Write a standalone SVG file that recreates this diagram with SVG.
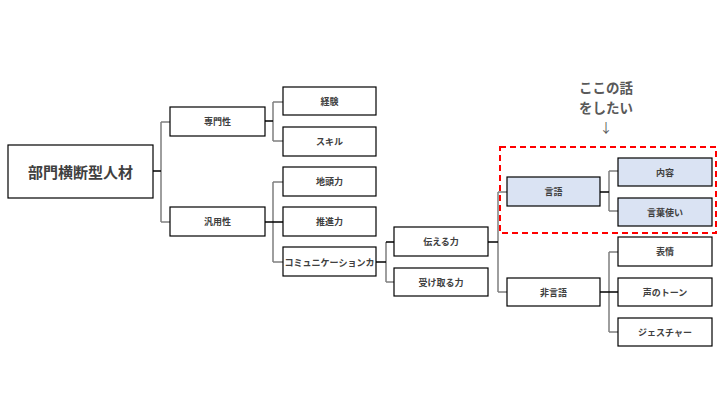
<svg xmlns="http://www.w3.org/2000/svg" width="720" height="405" viewBox="0 0 720 405">
<style>
.b{fill:#fff;stroke:#000;stroke-width:1.2}
.h{fill:#dae3f3;stroke:#000;stroke-width:1.2}
.t{font-family:"Noto Sans CJK JP","Noto Sans",sans-serif;font-size:9px;font-weight:bold;fill:#404040;text-anchor:middle;dominant-baseline:central}
.r{font-size:15px}
.a{font-family:"Noto Sans CJK JP","Noto Sans",sans-serif;font-size:13.5px;font-weight:bold;fill:#595959;text-anchor:middle}
.c{fill:none;stroke:#7f7f7f;stroke-width:1.5}
.k{fill:none;stroke:#000;stroke-width:1.5}
</style>
<rect width="720" height="405" fill="#fff"/>
<g id="connectors">
<path class="c" d="M161,122V222M161,122H170M161,222H170"/>
<path class="k" d="M153,171H161"/>
<path class="c" d="M273,102V141M273,102H283M273,141H283"/>
<path class="k" d="M265,121H273"/>
<path class="c" d="M273,182V262M273,182H283M273,262H283"/>
<path class="k" d="M265,222H283"/>
<path class="c" d="M386,242V282M386,282H394"/>
<path class="k" d="M376,262H386M386,242H394"/>
<path class="c" d="M498,192V292M498,192H507M498,292H507"/>
<path class="k" d="M488,242H498"/>
<path class="c" d="M609,171V211M609,171H618M609,211H618"/>
<path class="k" d="M600,192H609"/>
<path class="c" d="M609,252V332M609,252H618M609,332H618"/>
<path class="k" d="M600,292H618"/>
</g>
<g id="root"><rect class="b" x="8" y="145" width="145" height="53"/><text class="t r" x="80.5" y="171.5">部門横断型人材</text></g>
<g id="senmon"><rect class="b" x="170" y="107" width="95" height="29"/><text class="t" x="217.5" y="121.5">専門性</text></g>
<g id="hanyou"><rect class="b" x="170" y="207" width="95" height="29"/><text class="t" x="217.5" y="221.5">汎用性</text></g>
<g id="keiken"><rect class="b" x="283" y="87" width="93" height="28"/><text class="t" x="329.5" y="101">経験</text></g>
<g id="skill"><rect class="b" x="283" y="127" width="93" height="29"/><text class="t" x="329.5" y="141.5">スキル</text></g>
<g id="jiatama"><rect class="b" x="283" y="167" width="93" height="29"/><text class="t" x="329.5" y="181.5">地頭力</text></g>
<g id="suishin"><rect class="b" x="283" y="207" width="93" height="29"/><text class="t" x="329.5" y="221.5">推進力</text></g>
<g id="comm"><rect class="b" x="283" y="247" width="93" height="29"/><text class="t" x="329.5" y="261.5" textLength="90" lengthAdjust="spacingAndGlyphs" style="font-size:9.5px">コミュニケーションカ</text></g>
<g id="tsutaeru"><rect class="b" x="394" y="227" width="94" height="29"/><text class="t" x="441" y="241.5">伝える力</text></g>
<g id="uketoru"><rect class="b" x="394" y="268" width="94" height="28"/><text class="t" x="441" y="282">受け取る力</text></g>
<g id="gengo"><rect class="h" x="507" y="177" width="93" height="29"/><text class="t" x="553.5" y="191.5">言語</text></g>
<g id="higengo"><rect class="b" x="507" y="278" width="93" height="28"/><text class="t" x="553.5" y="292">非言語</text></g>
<g id="naiyou"><rect class="h" x="618" y="158" width="94" height="28"/><text class="t" x="665" y="172">内容</text></g>
<g id="kotobazukai"><rect class="h" x="618" y="198" width="94" height="28"/><text class="t" x="665" y="212">言葉使い</text></g>
<g id="hyoujou"><rect class="b" x="618" y="237" width="94" height="29"/><text class="t" x="665" y="251.5">表情</text></g>
<g id="koe"><rect class="b" x="618" y="278" width="94" height="28"/><text class="t" x="665" y="292">声のトーン</text></g>
<g id="gesture"><rect class="b" x="618" y="318" width="94" height="28"/><text class="t" x="665" y="332">ジェスチャー</text></g>
<g id="highlight"><rect x="500" y="147" width="216" height="86" fill="none" stroke="#ff0000" stroke-width="2" stroke-dasharray="6,4"/></g>
<g id="annotation">
<text class="a" x="606" y="93">ここの話</text>
<text class="a" x="606" y="113">をしたい</text>
<text class="a" x="606" y="132" style="font-weight:normal;font-size:13px">↓</text>
</g>
</svg>
